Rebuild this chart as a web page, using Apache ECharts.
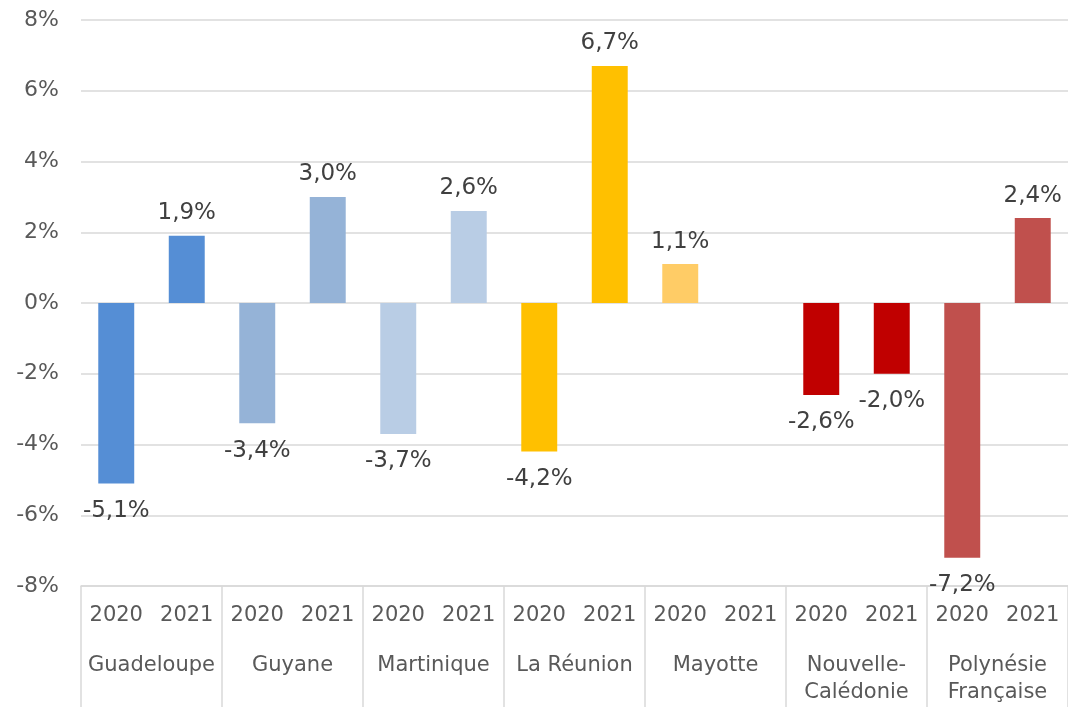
<!DOCTYPE html>
<html>
<head>
<meta charset="utf-8">
<script src="https://cdn.jsdelivr.net/npm/echarts@6/dist/echarts.min.js"></script>
<style>
  html, body { margin: 0; padding: 0; background: #fff; }
  #chart { width: 1068px; height: 707px; }
</style>
</head>
<body>
<div id="chart"></div>
<script>
// territoires et années
const territories = ["Guadeloupe", "Guyane", "Martinique", "La Réunion", "Mayotte", "Nouvelle-\nCalédonie", "Polynésie\nFrançaise"]
const years = ["2020", "2021", "2020", "2021", "2020", "2021", "2020", "2021", "2020", "2021", "2020", "2021", "2020", "2021"]
// évolution en %
const values = [-5.1, 1.9, -3.4, 3.0, -3.7, 2.6, -4.2, 6.7, 1.1, null, -2.6, -2.0, -7.2, 2.4]
const barColors = ["#558ed5", "#558ed5", "#95b3d7", "#95b3d7", "#b9cde5", "#b9cde5", "#ffc000", "#ffc000",
    "#ffcc66", "#ffcc66", "#c00000", "#c00000", "#c0504d", "#c0504d"]

var myChart = echarts.init(document.getElementById("chart"))
const font = "DejaVu Sans"

var option = {
    animation: false,
    // right: 0 -> le dernier trait de séparation tombe hors du cadre
    grid: { left: 81, right: 0, top: 20, bottom: 121 },
    xAxis: [
        {
            type: "category",
            data: years,
            axisLine: { show: false },
            axisTick: { show: false },
            axisLabel: { interval: 0, margin: 19, fontSize: 21, color: "#595959", fontFamily: font },
        },
        {
            type: "category",
            data: territories,
            position: "bottom",
            axisLine: { show: true, lineStyle: { color: "#d9d9d9", width: 1.5 } },
            axisTick: { show: true, interval: 0, length: 125, lineStyle: { color: "#d9d9d9", width: 1.5 } },
            axisLabel: { interval: 0, margin: 66, fontSize: 21, lineHeight: 27, color: "#595959", fontFamily: font, verticalAlign: "top" },
        },
    ],
    yAxis: {
        type: "value",
        min: -8,
        max: 8,
        interval: 2,
        axisLine: { show: false },
        axisTick: { show: false },
        splitLine: { lineStyle: { color: "#d9d9d9", width: 1.5 } },
        axisLabel: { formatter: "{value}%", margin: 22, fontSize: 22, color: "#595959", fontFamily: font },
    },
    series: [
        {
            type: "bar",
            xAxisIndex: 0,
            barWidth: "51%",
            data: values.map((v, i) => ({
                value: v,
                itemStyle: { color: barColors[i] },
                label: { position: v < 0 ? "bottom" : "top", distance: v < 0 ? 16 : 11 },
            })),
            label: {
                show: true,
                fontSize: 23,
                color: "#404040",
                fontFamily: font,
                formatter: (p) => p.value == null ? "" : p.value.toFixed(1).replace(".", ",") + "%",
            },
        },
    ],
}

myChart.setOption(option)
window.addEventListener("resize", myChart.resize)
</script>
</body>
</html>
